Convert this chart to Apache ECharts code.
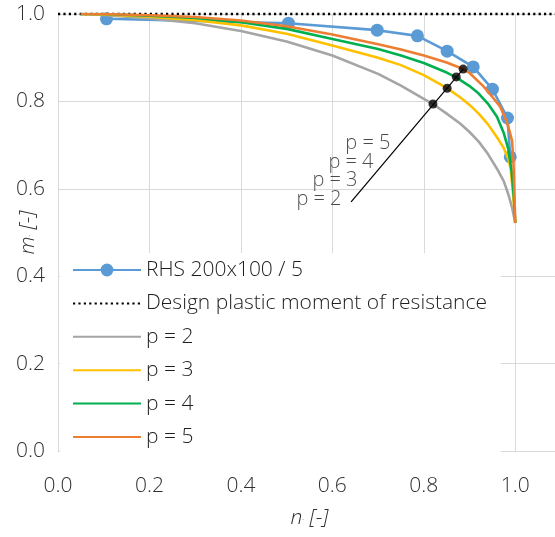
<!DOCTYPE html>
<html>
<head>
<meta charset="utf-8">
<script src="https://cdn.jsdelivr.net/npm/echarts@6/dist/echarts.min.js"></script>
<style>
html,body{margin:0;padding:0;background:#fff;}
#chart{width:555px;height:537px;}
</style>
</head>
<body>
<div id="chart"></div>
<script>
// ---- data ----
var rhsN = [0.106, 0.504, 0.698, 0.786, 0.851, 0.908, 0.950, 0.983, 0.989];
var rhsM = [0.989, 0.979, 0.963, 0.950, 0.915, 0.879, 0.828, 0.762, 0.673];

var designN = [0, 1.1];
var designM = [1.0, 1.0];

var p2N = [0.05, 0.1, 0.2, 0.3, 0.4, 0.5, 0.6, 0.7, 0.75, 0.8, 0.82, 0.85, 0.88, 0.9, 0.92, 0.94, 0.96, 0.975, 0.985, 0.993, 1.0];
var p2M = [1.0, 0.998, 0.99, 0.979, 0.961, 0.937, 0.905, 0.863, 0.836, 0.806, 0.794, 0.772, 0.749, 0.730, 0.708, 0.680, 0.646, 0.617, 0.587, 0.557, 0.522];

var p3N = [0.05, 0.1, 0.2, 0.3, 0.4, 0.5, 0.6, 0.7, 0.75, 0.8, 0.85, 0.88, 0.9, 0.92, 0.94, 0.96, 0.975, 0.985, 0.99, 0.995, 1.0];
var p3M = [1.0, 0.999, 0.994, 0.986, 0.974, 0.955, 0.928, 0.900, 0.883, 0.860, 0.831, 0.809, 0.792, 0.772, 0.748, 0.718, 0.693, 0.668, 0.645, 0.590, 0.522];

var p4N = [0.05, 0.1, 0.2, 0.3, 0.4, 0.5, 0.6, 0.7, 0.75, 0.8, 0.85, 0.871, 0.9, 0.92, 0.94, 0.96, 0.975, 0.985, 0.992, 0.997, 1.0];
var p4M = [1.0, 1.0, 0.996, 0.991, 0.981, 0.966, 0.943, 0.920, 0.905, 0.888, 0.866, 0.855, 0.835, 0.818, 0.795, 0.765, 0.727, 0.690, 0.640, 0.580, 0.522];

var p5N = [0.05, 0.1, 0.2, 0.3, 0.4, 0.5, 0.6, 0.7, 0.75, 0.8, 0.85, 0.886, 0.9, 0.93, 0.95, 0.967, 0.98, 0.988, 0.993, 0.996, 0.998, 1.0];
var p5M = [1.0, 1.0, 0.997, 0.993, 0.985, 0.972, 0.953, 0.931, 0.919, 0.905, 0.889, 0.874, 0.865, 0.835, 0.810, 0.788, 0.757, 0.730, 0.710, 0.660, 0.590, 0.522];

// annotation: leader line, intersection dots, labels
var leaderN = [0.641, 0.886];
var leaderM = [0.570, 0.874];
var dotN = [0.820, 0.851, 0.871, 0.886];
var dotM = [0.794, 0.830, 0.856, 0.874];
var annoText = ['p = 2', 'p = 3', 'p = 4', 'p = 5'];
var annoN = [0.620, 0.655, 0.690, 0.727];
var annoM = [0.577, 0.620, 0.661, 0.705];

var legendNames = ['RHS 200x100 / 5', 'Design plastic moment of resistance', 'p = 2', 'p = 3', 'p = 4', 'p = 5'];
var xTicks = ['0.0', '0.2', '0.4', '0.6', '0.8', '1.0'];
var yTicks = ['0.0', '0.2', '0.4', '0.6', '0.8', '1.0'];

function zip(a, b) { return a.map(function (v, i) { return [v, b[i]]; }); }

var FONT = '"Open Sans", sans-serif';
var TXT = '#303030';
var DARK = '#1e1e1e';

var chart = echarts.init(document.getElementById('chart'), null, {renderer: 'canvas'});

function curve(name, n, m, color) {
  return {
    name: name, type: 'line', data: zip(n, m), symbol: 'none', smooth: false,
    lineStyle: {color: color, width: 2.6}, itemStyle: {color: color},
    z: 3
  };
}

var legendData = legendNames.map(function (nm, i) {
  return i === 0 ? {name: nm} : {name: nm, itemStyle: {opacity: 0}};
});

var option = {
  animation: false,
  backgroundColor: '#fff',
  textStyle: {fontFamily: FONT},
  grid: {left: 58, top: 14, right: -6, bottom: 86, containLabel: false, outerBoundsMode: 'none'},
  xAxis: {
    type: 'value', min: 0, max: 1.1, interval: 0.2,
    name: '{i|n}{s|.}{i| [-]}', nameLocation: 'middle', nameGap: 57, nameMoveOverlap: false,
    nameTextStyle: {rich: {i: {fontStyle: 'italic', fontSize: 21, color: TXT, fontFamily: FONT, fontWeight: 300}, s: {fontSize: 6, color: TXT}}},
    axisLine: {show: true, lineStyle: {color: '#D9D9D9', width: 1}},
    axisTick: {show: false},
    axisLabel: {
      margin: 25, color: TXT, fontSize: 21, fontFamily: FONT, fontWeight: 300,
      formatter: function (v) { var i = Math.round(v / 0.2); return (Math.abs(v - i * 0.2) < 1e-6 && i < xTicks.length) ? xTicks[i] : ''; }
    },
    splitLine: {show: true, lineStyle: {color: '#D9D9D9', width: 1}}
  },
  yAxis: {
    type: 'value', min: 0, max: 1, interval: 0.2,
    name: '{i|m}{s|.}{i| [-]}', nameLocation: 'middle', nameGap: 19, nameRotate: 90, nameMoveOverlap: false,
    nameTextStyle: {rich: {i: {fontStyle: 'italic', fontSize: 21, color: TXT, fontFamily: FONT, fontWeight: 300}, s: {fontSize: 6, color: TXT}}},
    axisLine: {show: true, lineStyle: {color: '#D9D9D9', width: 1}},
    axisTick: {show: false},
    axisLabel: {
      margin: 13, color: TXT, fontSize: 21, fontFamily: FONT, fontWeight: 300,
      formatter: function (v) { return yTicks[Math.round(v / 0.2)]; }
    },
    splitLine: {show: true, lineStyle: {color: '#D9D9D9', width: 1}}
  },
  legend: {
    data: legendData,
    orient: 'vertical', left: 60, top: 253,
    padding: [6, 14, 6, 12],
    backgroundColor: '#fff',
    itemWidth: 68, itemHeight: 16, itemGap: 11.4,
    textStyle: {fontSize: 21, color: DARK, fontFamily: FONT, fontWeight: 300, lineHeight: 22},
    z: 10
  },
  series: [
    {
      name: legendNames[0], type: 'line', data: zip(rhsN, rhsM),
      symbol: 'circle', symbolSize: 13,
      lineStyle: {color: '#5B9BD5', width: 2.6}, itemStyle: {color: '#5B9BD5'},
      z: 2
    },
    {
      name: legendNames[1], type: 'line', data: zip(designN, designM),
      symbol: 'none', clip: false,
      lineStyle: {color: '#000', width: 2.6, type: [2.2, 3.2], cap: 'butt'}, itemStyle: {color: '#000'},
      z: 3
    },
    curve(legendNames[2], p2N, p2M, '#A5A5A5'),
    curve(legendNames[3], p3N, p3M, '#FFC000'),
    curve(legendNames[4], p4N, p4M, '#00B050'),
    curve(legendNames[5], p5N, p5M, '#ED7D31'),
    {
      name: 'leader', type: 'line', data: zip(leaderN, leaderM), symbol: 'none',
      lineStyle: {color: '#000', width: 1.2}, z: 4, silent: true
    },
    {
      name: 'dots', type: 'scatter', data: zip(dotN, dotM), symbol: 'circle', symbolSize: 9,
      itemStyle: {color: '#000'}, z: 5, silent: true
    },
    {
      name: 'labels', type: 'scatter', symbolSize: 0, z: 5, silent: true,
      data: annoN.map(function (n, i) { return {value: [n, annoM[i]], label: {formatter: annoText[i]}}; }),
      label: {show: true, position: 'left', distance: 0, color: DARK, fontSize: 20, fontFamily: FONT, fontWeight: 300}
    }
  ]
};
chart.setOption(option);
</script>
</body>
</html>
